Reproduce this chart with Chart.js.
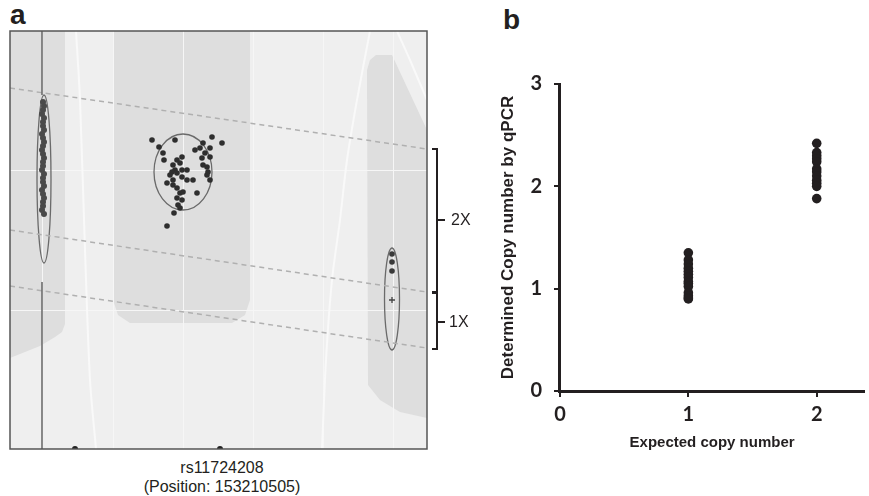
<!DOCTYPE html>
<html>
<head>
<meta charset="utf-8">
<script src="https://cdn.jsdelivr.net/npm/chart.js@4.4.0/dist/chart.umd.min.js"></script>
<style>
html,body{margin:0;padding:0;background:#fff;}
body{width:869px;height:496px;position:relative;overflow:hidden;font-family:"Liberation Sans",Arial,sans-serif;color:#231f20;}
.abs{position:absolute;}
#wrapA{left:0;top:25px;width:437px;height:430px;}
#wrapB{left:460px;top:60px;width:409px;height:400px;}
.panel{font-weight:bold;font-size:28px;line-height:28px;}
.lbl{font-size:16px;line-height:18px;white-space:nowrap;}
.brk{border:2px solid #231f20;border-left:none;width:6px;box-sizing:border-box;}
.tick{height:2px;width:7px;background:#231f20;}
</style>
</head>
<body>
<div class="abs panel" style="left:10px;top:1px;">a</div>
<div class="abs panel" style="left:503px;top:6px;">b</div>

<div id="wrapA" class="abs"><canvas id="chartA" width="437" height="430"></canvas></div>
<div id="wrapB" class="abs"><canvas id="chartB" width="409" height="400"></canvas></div>

<div class="abs lbl" style="left:122px;width:200px;text-align:center;top:459px;">rs11724208</div>
<div class="abs lbl" style="left:72px;width:300px;text-align:center;top:478px;">(Position: 153210505)</div>

<!-- brackets -->
<div class="abs brk" style="left:432px;top:148px;height:145px;"></div>
<div class="abs tick" style="left:438px;top:219px;"></div>
<div class="abs lbl" style="left:451px;top:211px;">2X</div>
<div class="abs brk" style="left:432px;top:292px;height:58px;"></div>
<div class="abs tick" style="left:438px;top:321px;"></div>
<div class="abs lbl" style="left:449px;top:313px;">1X</div>

<script>
// ================= PANEL A: cluster plot (unitless intensities) ==================
const A_X_MAX = 417;
const A_Y_MAX = 418;
const A_GRID_X = [32, 103, 173, 243, 313, 383];
const A_GRID_Y = [139, 279];

// left cluster (dense column)
const LEFT_X = [33,34,33,32,34,33,33,34,32,33,34,33,32,33,34,33,33,32,34,33,33,34,32,33,34,33,33,32,34];
const LEFT_Y = [347,343,339,335,331,327,323,319,315,311,307,303,299,295,291,287,283,279,275,271,267,263,259,255,251,247,243,239,235];

// middle cluster
const MID_X = [142,165,149,153,154,185,190,193,202,212,200,195,200,192,193,197,198,197,200,172,167,163,170,165,162,167,172,177,172,177,183,157,163,167,170,173,187,167,172,168,170,164,157,160,163];
const MID_Y = [309,309,302,296,289,299,301,306,312,306,301,296,292,291,284,282,277,274,269,292,289,284,286,279,277,276,279,279,272,269,269,266,264,261,256,257,256,251,249,244,241,236,223,274,269];

// right cluster
const RIGHT_X = [382, 382, 382];
const RIGHT_Y = [195, 187, 178];
const PLUS_X = [382];
const PLUS_Y = [149];

// points on the bottom edge
const EDGE_X = [65, 210];
const EDGE_Y = [0, 0];

// cluster ellipses: [cx, cy, rx, ry]
const ELLIPSES = [
  [34, 270, 7, 84],
  [173, 277, 29, 38],
  [382, 150, 7.5, 51]
];

// shaded call regions (polygons)
const REGION_LEFT = [[0,418],[55,418],[55,125],[52,117],[45,112],[30,103],[0,91]];
const REGION_MID = [[103,418],[240,418],[240,149],[235,134],[222,126],[120,126],[108,134],[103,149]];
const REGION_RIGHT = [[360,389],[366,394],[382,394],[417,319],[417,31],[390,37],[370,49],[358,64],[357,379]];

// white boundary curves
const WHITE_1 = [[66,418],[70,349],[75,199],[80,69],[86,0]];
const WHITE_2 = [[360,418],[347,349],[337,289],[330,229],[322,169],[316,89],[312,0]];
const WHITE_3 = [[387,418],[400,389],[417,349]];

// dashed copy-number boundaries
const DASH_1 = [[0,361],[417,300]];
const DASH_2 = [[0,219],[417,157]];
const DASH_3 = [[0,163],[417,101]];

// vertical axis line through left cluster (gap at ellipse)
const VLINE = [[32,418],[32,354],[32,null],[32,167],[32,0]];

// ================= PANEL B ==================
const B_X_TICKS = [0, 1, 2];
const B_Y_TICKS = [0, 1, 2, 3];
const EXPECTED = [1, 2];
const QPCR_1X = [1.35, 1.28, 1.24, 1.20, 1.17, 1.14, 1.11, 1.07, 1.05, 1.02, 0.96, 0.93, 0.91, 0.90];
const QPCR_2X = [2.42, 2.33, 2.30, 2.27, 2.24, 2.17, 2.14, 2.10, 2.06, 2.03, 2.00, 1.88];

// =============== UTIL ===============
const zipXY = (xs, ys) => xs.map((x, i) => ({ x, y: ys[i] }));
const pairs = (arr) => arr.map(p => ({ x: p[0], y: p[1] }));

const bgPlugin = {
  id: 'bgA',
  beforeDraw(chart){
    const { ctx, chartArea: ca, scales: { x, y } } = chart;
    ctx.save();
    ctx.fillStyle = '#efefef';
    ctx.fillRect(ca.left, ca.top, ca.width, ca.height);
    ctx.beginPath();
    ctx.rect(ca.left, ca.top, ca.width, ca.height);
    ctx.clip();
    ctx.fillStyle = '#dedede';
    [REGION_LEFT, REGION_MID, REGION_RIGHT].forEach(poly => {
      ctx.beginPath();
      poly.forEach((p, i) => {
        const px = x.getPixelForValue(p[0]), py = y.getPixelForValue(p[1]);
        if (i === 0) ctx.moveTo(px, py); else ctx.lineTo(px, py);
      });
      ctx.closePath();
      ctx.fill();
    });
    ctx.restore();
  },
  beforeDatasetsDraw(chart){
    const { ctx, scales: { x, y } } = chart;
    ctx.save();
    ctx.strokeStyle = '#6a6a6a';
    ctx.lineWidth = 1.3;
    ELLIPSES.forEach(([cx, cy, rx, ry]) => {
      const px = x.getPixelForValue(cx), py = y.getPixelForValue(cy);
      const rpx = Math.abs(x.getPixelForValue(cx + rx) - px);
      const rpy = Math.abs(y.getPixelForValue(cy + ry) - py);
      ctx.beginPath();
      ctx.ellipse(px, py, rpx, rpy, 0, 0, Math.PI * 2);
      ctx.stroke();
    });
    ctx.restore();
  },
  afterDraw(chart){
    const { ctx, chartArea: ca } = chart;
    ctx.save();
    ctx.strokeStyle = '#555';
    ctx.lineWidth = 1.5;
    ctx.strokeRect(ca.left, ca.top, ca.width, ca.height);
    ctx.restore();
  }
};

function lineSet(pts, color, width, dash, tension){
  return { data: pairs(pts), showLine: true, pointRadius: 0, borderColor: color,
    borderWidth: width, borderDash: dash || [], tension: tension || 0, spanGaps: false, fill: false };
}

const hiddenAxis = (max, grid) => ({
  type: 'linear', min: 0, max,
  afterBuildTicks: s => { s.ticks = grid.map(v => ({ value: v })); },
  ticks: { display: false },
  grid: { color: '#f6f6f6', lineWidth: 1, drawTicks: false },
  border: { display: false }
});

new Chart(document.getElementById('chartA'), {
  type: 'scatter',
  data: {
    datasets: [
      { data: zipXY(MID_X, MID_Y), pointRadius: 2.8, backgroundColor: '#2e2e2e', borderWidth: 0 },
      { data: zipXY(RIGHT_X, RIGHT_Y), pointRadius: 2.8, backgroundColor: '#3a3a3a', borderWidth: 0 },
      { data: zipXY(PLUS_X, PLUS_Y), pointStyle: 'cross', pointRadius: 3, borderColor: '#444', borderWidth: 1.3 },
      { data: zipXY(LEFT_X, LEFT_Y), pointRadius: 3, backgroundColor: '#4a4a4a', borderWidth: 0 },
      { data: zipXY(EDGE_X, EDGE_Y), pointRadius: 3, backgroundColor: '#222', borderWidth: 0 },
      lineSet(VLINE, '#666', 1.5),
      lineSet(DASH_1, '#b0b0b0', 1.5, [5, 4]),
      lineSet(DASH_2, '#b0b0b0', 1.5, [5, 4]),
      lineSet(DASH_3, '#b0b0b0', 1.5, [5, 4]),
      lineSet(WHITE_1, '#f9f9f9', 2, null, 0.3),
      lineSet(WHITE_2, '#f9f9f9', 2, null, 0.3),
      lineSet(WHITE_3, '#f9f9f9', 2, null, 0.3)
    ]
  },
  options: {
    responsive: false, animation: false, events: [],
    layout: { padding: { left: 10, top: 6, right: 10, bottom: 6 } },
    plugins: { legend: { display: false }, tooltip: { enabled: false } },
    scales: { x: hiddenAxis(A_X_MAX, A_GRID_X), y: hiddenAxis(A_Y_MAX, A_GRID_Y) }
  },
  plugins: [bgPlugin]
});

// ================= CHART B ==================
const INK = '#231f20';
const tickFont = { family: 'Lato', weight: 'bold', size: 20 };
const titleFont = { family: 'Liberation Sans', weight: 'bold', size: 15 };
const yTitleFont = { family: 'Liberation Sans', weight: 'bold', size: 17 };

new Chart(document.getElementById('chartB'), {
  type: 'scatter',
  data: {
    datasets: [
      { data: QPCR_1X.map(v => ({ x: EXPECTED[0], y: v })), pointRadius: 4.8, backgroundColor: INK, borderWidth: 0 },
      { data: QPCR_2X.map(v => ({ x: EXPECTED[1], y: v })), pointRadius: 4.8, backgroundColor: INK, borderWidth: 0 }
    ]
  },
  options: {
    responsive: false, animation: false, events: [],
    layout: { padding: { left: 38, top: 23, right: 0, bottom: 8 } },
    plugins: { legend: { display: false }, tooltip: { enabled: false } },
    scales: {
      x: {
        type: 'linear', min: 0, max: 2.37,
        afterBuildTicks: s => { s.ticks = B_X_TICKS.map(v => ({ value: v })); },
        ticks: { color: INK, font: tickFont, padding: 6 },
        grid: { drawOnChartArea: false, drawTicks: true, tickLength: 6, color: INK, lineWidth: 2 },
        border: { display: true, color: INK, width: 3 },
        title: { display: true, text: 'Expected copy number', color: INK, font: titleFont, padding: { top: 1, bottom: 0 } }
      },
      y: {
        type: 'linear', min: 0, max: 3,
        afterBuildTicks: s => { s.ticks = B_Y_TICKS.map(v => ({ value: v })); },
        ticks: { color: INK, font: tickFont, padding: 12 },
        grid: { drawOnChartArea: false, drawTicks: true, tickLength: 6, color: INK, lineWidth: 2 },
        border: { display: true, color: INK, width: 3 },
        title: { display: true, text: 'Determined Copy number by qPCR', color: INK, font: yTitleFont, padding: { top: 0, bottom: 0 } }
      }
    }
  }
});
</script>
</body>
</html>
